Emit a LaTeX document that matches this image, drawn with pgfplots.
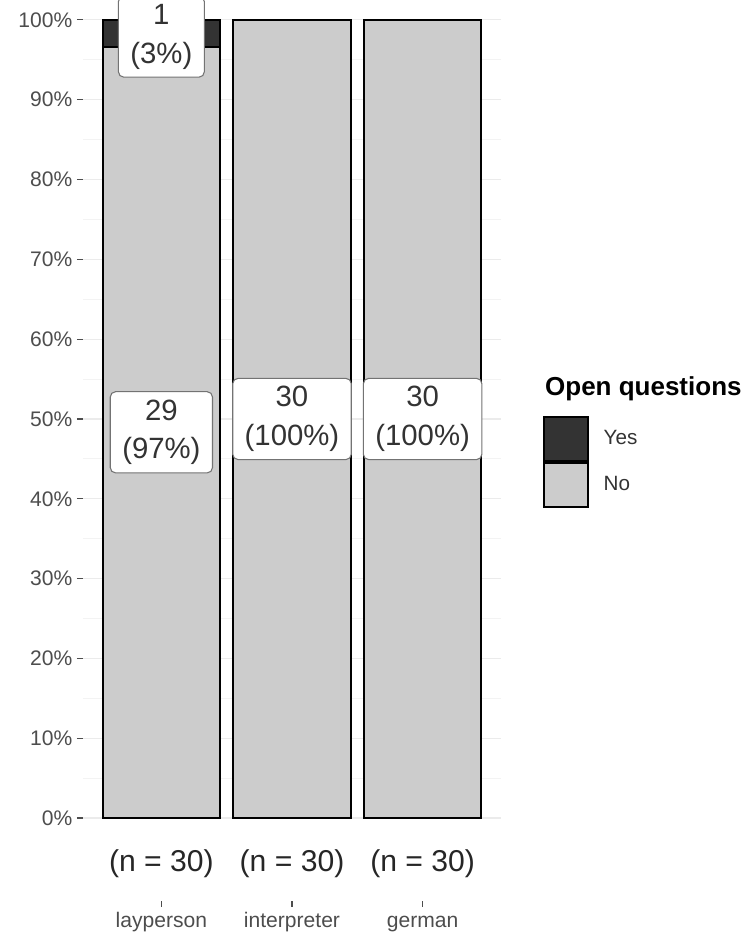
\documentclass[border=0pt]{standalone}
\usepackage{fontspec}
\setmainfont{Liberation Sans}
\usepackage{pgfplots}
\pgfplotsset{compat=1.18}
\definecolor{nofill}{HTML}{CCCCCC}
\definecolor{yesfill}{HTML}{333333}
\definecolor{axtext}{HTML}{4D4D4D}
\definecolor{gridc}{HTML}{EBEBEB}
\tikzset{lbl/.style={draw=black!55, line width=0.8pt, fill=white, rounded corners=4pt,
        align=center, font=\fontsize{22}{29}\selectfont, text=black!80,
        inner xsep=9pt, inner ysep=6pt}}
\begin{document}
\begin{tikzpicture}
\begin{axis}[
    scale only axis,
    width=313.5pt, height=675.75pt,
    xmin=0.4, xmax=3.6, ymin=-10.4, ymax=102.5,
    ybar stacked, bar width=0.9,
    axis line style={draw=none},
    xtick={1,2,3},
    xticklabels={layperson,interpreter,german},
    ytick={0,10,...,100},
    yticklabels={0\%,10\%,20\%,30\%,40\%,50\%,60\%,70\%,80\%,90\%,100\%},
    minor ytick={5,15,...,95},
    ymajorgrids, yminorgrids,
    major grid style={gridc, line width=0.8pt},
    minor grid style={gridc!60, line width=0.6pt},
    tick align=outside, xtick pos=bottom, ytick pos=left,
    major tick length=4.5pt, minor tick length=0pt,
    tick style={axtext, line width=0.8pt},
    ticklabel style={font=\fontsize{15.8}{18}\selectfont, text=axtext},
    xticklabel style={text height=11.5pt, text depth=3pt},
    clip=false,
    reverse legend,
    legend image code/.code={\draw[#1] (0pt,-16.5pt) rectangle (33pt,16.5pt);},
    legend style={at={(rel axis cs:1.10,0.539)}, anchor=north west,
        draw=none, fill=none, inner sep=0pt, row sep=0pt, column sep=11pt,
        nodes={inner sep=0pt}, cells={anchor=west},
        font=\fontsize{15.5}{18}\selectfont, text=black!80},
]
\addplot[fill=nofill, draw=black, line width=1.5pt] coordinates {(1,96.67) (2,100) (3,100)};
\addplot[fill=yesfill, draw=black, line width=1.5pt] coordinates {(1,3.33) (2,0) (3,0)};
\legend{No,Yes}

% label anchors, drawn after the axis so they sit over the bars
\coordinate (lay no) at (axis cs:1,48.33);
\coordinate (lay yes) at (axis cs:1,97.9);
\coordinate (int no) at (axis cs:2,50);
\coordinate (ger no) at (axis cs:3,50);
\coordinate (n1) at (axis cs:1,-5.7);
\coordinate (n2) at (axis cs:2,-5.7);
\coordinate (n3) at (axis cs:3,-5.7);

\node[anchor=base west, inner sep=0pt, font=\bfseries\fontsize{19.5}{22}\selectfont]
    at (rel axis cs:1.105,0.561) {Open questions};
\end{axis}

\node[lbl] at (lay no) {29\\(97\%)};
\node[lbl] at (lay yes) {1\\(3\%)};
\node[lbl] at (int no) {30\\(100\%)};
\node[lbl] at (ger no) {30\\(100\%)};
\foreach \c in {n1,n2,n3}
    \node[font=\fontsize{22.6}{26}\selectfont, text=black!85] at (\c) {(n = 30)};

\pgfresetboundingbox
\path[use as bounding box] ([xshift=-62.25pt,yshift=-25.5pt]current axis.south west)
    rectangle ([xshift=500.25pt]current axis.north west);
\end{tikzpicture}
\end{document}
